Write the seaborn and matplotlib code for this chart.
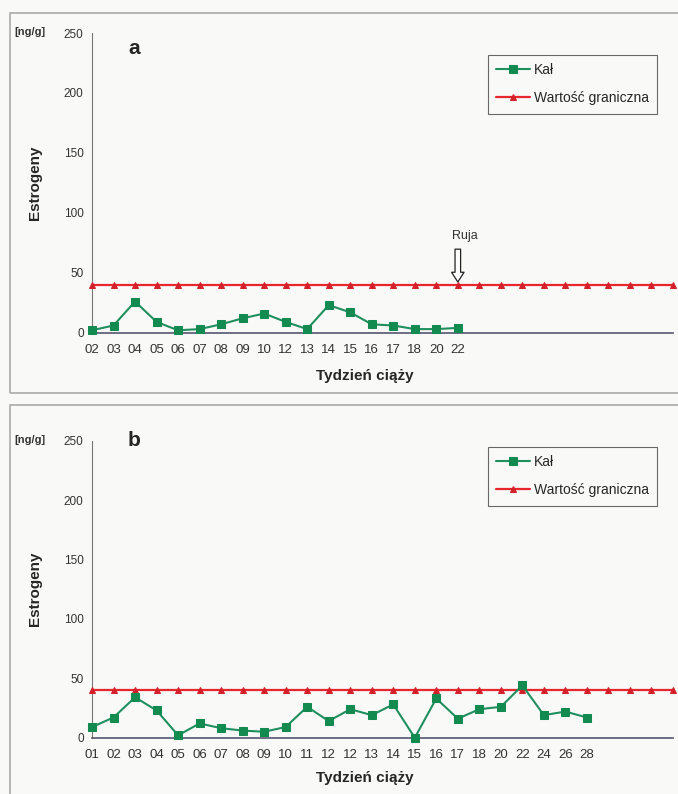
import numpy as np
import pandas as pd
import matplotlib.pyplot as plt
import matplotlib.patches as patches
import seaborn as sns

# panel a - weeks and fecal estrogen values
weeks_a = ['02', '03', '04', '05', '06', '07', '08', '09', '10', '12',
           '13', '14', '15', '16', '17', '18', '20', '22']
kal_a = [2, 6, 26, 9, 2, 3, 7, 12, 16, 9, 3, 23, 17, 7, 6, 3, 3, 4]

# panel b
weeks_b = ['01', '02', '03', '04', '05', '06', '07', '08', '09', '10', '11', '12',
           '12', '13', '14', '15', '16', '17', '18', '20', '22', '24', '26', '28']
kal_b = [9, 17, 34, 23, 2, 12, 8, 6, 5, 9, 26, 14, 24, 19, 28, 0, 33, 16, 24, 26,
         44, 19, 22, 17]

threshold = 40
n_slots = 28
ruja_week = '22'

sns.set_style('white')
plt.rcParams['font.family'] = ['Liberation Sans', 'DejaVu Sans']

green = '#1f8f5f'
red = '#e8262e'
bg = '#f9f9f7'

W, H = 678, 794
fig = plt.figure(figsize=(W / 100, H / 100), dpi=100)
fig.patch.set_facecolor(bg)


def panel(y_top, y_zero, weeks, vals, letter, box_top, box_bottom, xlab_y):
    ax = fig.add_axes([92 / W, (H - y_zero) / H, (673 - 92) / W, (y_zero - y_top) / H])
    ax.set_facecolor(bg)
    df = pd.DataFrame({'pos': np.arange(len(vals)), 'val': vals})
    thr = pd.DataFrame({'pos': np.arange(n_slots), 'val': [threshold] * n_slots})
    sns.lineplot(data=df, x='pos', y='val', ax=ax, color=green, lw=1.5,
                 marker='s', markersize=6, markerfacecolor='#138a4f',
                 markeredgecolor='#138a4f', label='Kał', clip_on=False, zorder=4)
    sns.lineplot(data=thr, x='pos', y='val', ax=ax, color=red, lw=1.6,
                 marker='^', markersize=5, markerfacecolor='#d4202a',
                 markeredgecolor='#d4202a', label='Wartość graniczna',
                 clip_on=False, zorder=3)
    ax.set_xlim(0, n_slots - 1)
    ax.set_ylim(0, 250)
    ax.set_yticks([0, 50, 100, 150, 200, 250])
    ax.set_xticks(np.arange(n_slots))
    ax.set_xticklabels(list(weeks) + [''] * (n_slots - len(weeks)))
    ax.tick_params(axis='both', labelsize=9.5, colors='#333333', length=3,
                   direction='out', width=0.8, pad=5)
    ax.tick_params(axis='y', labelsize=8.5, colors='#555555', labelcolor='#333333', pad=3)
    ax.set_xlabel('')
    ax.set_ylabel('')
    for s in ['top', 'right']:
        ax.spines[s].set_visible(False)
    ax.spines['left'].set_color('#777777')
    ax.spines['bottom'].set_color('#555570')
    ax.spines['bottom'].set_linewidth(1.2)

    leg = ax.legend(loc='upper left', bbox_to_anchor=(488 / W, (H - box_top - 42) / H),
                    bbox_transform=fig.transFigure, fontsize=10, frameon=True,
                    fancybox=False, handlelength=2.4, borderpad=0.6,
                    labelspacing=1.0, handletextpad=0.3, borderaxespad=0)
    leg.get_frame().set_edgecolor('#444444')
    leg.get_frame().set_facecolor(bg)
    leg.get_frame().set_linewidth(0.8)

    fig.text(128 / W, (H - box_top - 35) / H, letter, fontsize=15,
             fontweight='bold', ha='left', va='center')
    fig.text(30 / W, (H - y_top + 1) / H, '[ng/g]', fontsize=8,
             fontweight='bold', ha='center', va='center', color='#333333')
    fig.text(35 / W, (H - (y_top + y_zero) / 2) / H, 'Estrogeny', fontsize=11,
             fontweight='bold', rotation=90, ha='center', va='center')
    fig.text(365 / W, (H - xlab_y) / H, 'Tydzień ciąży', fontsize=11,
             fontweight='bold', ha='center', va='center')

    rect = patches.Rectangle((10 / W, (H - box_bottom) / H), 1, (box_bottom - box_top) / H,
                             transform=fig.transFigure, fill=False,
                             ec='#aaaaaa', lw=1.2)
    fig.patches.append(rect)
    return ax


ax_a = panel(33, 332.7, weeks_a, kal_a, 'a', 13, 393, 376)
ax_b = panel(440.7, 737.7, weeks_b, kal_b, 'b', 405, 820, 778)

# Ruja marker on panel a
rx = weeks_a.index(ruja_week)
ax_a.annotate('', xy=(rx, threshold), xytext=(rx, threshold + 32),
              arrowprops=dict(arrowstyle='simple,head_width=0.9,head_length=0.7,tail_width=0.4',
                              fc='white', ec='#222222', lw=0.9))
ax_a.text(rx + 0.35, threshold + 41, 'Ruja', fontsize=9, ha='center', va='center',
          color='#333333')

plt.savefig('out.png', dpi=100, facecolor=fig.get_facecolor())
